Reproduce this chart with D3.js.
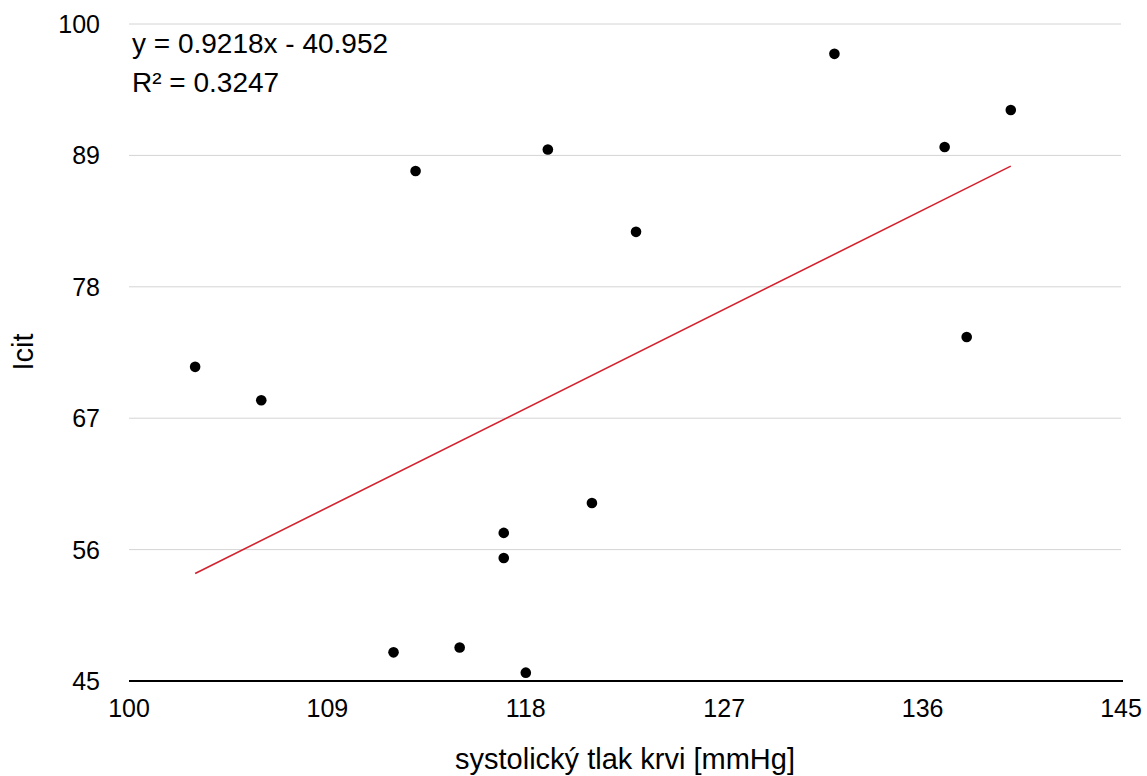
<!DOCTYPE html>
<html>
<head>
<meta charset="utf-8">
<script src="https://cdn.jsdelivr.net/npm/d3@7"></script>
<style>
    body { margin: 0; background: #fff; }
    text { font-family: "Liberation Sans", Arial, Helvetica, sans-serif; fill: #000; }
</style>
</head>
<body>
<div id="chart"></div>
<script>
// systolic blood pressure [mmHg] and Icit per subject
const sbp  = [103, 106, 112, 113, 115, 117, 117, 118, 119, 121, 123, 132, 137, 138, 140];
const icit = [71.3, 68.5, 47.4, 87.7, 47.8, 57.4, 55.3, 45.7, 89.5, 59.9, 82.6, 97.5, 89.7, 73.8, 92.8];

const xTicks = [100, 109, 118, 127, 136, 145];
const yTicks = [45, 56, 67, 78, 89, 100];

// trendline as printed on the chart
const slope = 0.9218, intercept = -40.952, r2 = "0.3247";

const W = 1147, H = 776;
const margin = {top: 24, right: 26, bottom: 95, left: 129};
const width = W - margin.left - margin.right;
const height = H - margin.top - margin.bottom;

const svg = d3.select("#chart").append("svg")
    .attr("width", W)
    .attr("height", H);

const g = svg.append("g")
    .attr("transform", `translate(${margin.left},${margin.top})`);

const x = d3.scaleLinear().domain([100, 145]).range([0, width]);
const y = d3.scaleLinear().domain([45, 100]).range([height, 0]);

// gridlines
g.append("g")
    .selectAll("line")
    .data(yTicks.filter(d => d > 45))
    .enter().append("line")
    .attr("x1", 0)
    .attr("x2", width)
    .attr("y1", d => y(d))
    .attr("y2", d => y(d))
    .attr("stroke", "#d4d4d4")
    .attr("stroke-width", 1);

// y tick labels
g.append("g")
    .selectAll("text")
    .data(yTicks)
    .enter().append("text")
    .attr("x", -29)
    .attr("y", d => y(d))
    .attr("dy", "0.36em")
    .attr("text-anchor", "end")
    .attr("font-size", 25)
    .text(d => d);

// x axis line + labels
g.append("line")
    .attr("x1", 0)
    .attr("x2", width + 2)
    .attr("y1", height)
    .attr("y2", height)
    .attr("stroke", "#000")
    .attr("stroke-width", 2.2);

g.append("g")
    .selectAll("text")
    .data(xTicks)
    .enter().append("text")
    .attr("x", d => x(d))
    .attr("y", height + 27)
    .attr("dy", "0.36em")
    .attr("text-anchor", "middle")
    .attr("font-size", 25)
    .text(d => d);

// trendline
const xExt = d3.extent(sbp);
g.append("path")
    .datum(xExt)
    .attr("fill", "none")
    .attr("stroke", "#d3232f")
    .attr("stroke-width", 1.6)
    .attr("d", d3.line()
        .x(d => x(d))
        .y(d => y(slope * d + intercept)));

// points
g.selectAll("circle")
    .data(sbp.map((d, i) => ({sbp: d, icit: icit[i]})))
    .enter().append("circle")
    .attr("cx", d => x(d.sbp))
    .attr("cy", d => y(d.icit))
    .attr("r", 5.3)
    .attr("fill", "#000");

// equation
g.append("text")
    .attr("x", 3)
    .attr("y", 29)
    .attr("font-size", 28)
    .text(`y = ${slope}x - ${Math.abs(intercept)}`);

g.append("text")
    .attr("x", 3)
    .attr("y", 68)
    .attr("font-size", 28)
    .text(`R² = ${r2}`);

// axis titles
svg.append("text")
    .attr("x", margin.left + width / 2)
    .attr("y", 769)
    .attr("text-anchor", "middle")
    .attr("font-size", 29)
    .text("systolický tlak krvi [mmHg]");

svg.append("text")
    .attr("transform", `translate(33, ${352}) rotate(-90)`)
    .attr("text-anchor", "middle")
    .attr("font-size", 29)
    .text("Icit");
</script>
</body>
</html>
